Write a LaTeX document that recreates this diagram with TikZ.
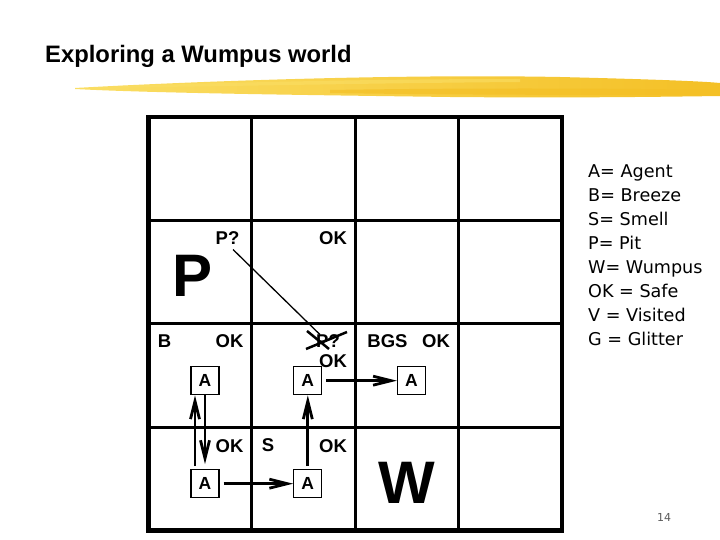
\documentclass[tikz,border=0pt]{standalone}
\usepackage{fontspec}
\setmainfont{Liberation Sans}
\newfontfamily\legendfont{DejaVu Sans}
\usetikzlibrary{arrows.meta,positioning}
\definecolor{brushgold}{RGB}{244,192,38}
\definecolor{brushpale}{RGB}{250,222,100}
\definecolor{pagegray}{RGB}{90,90,90}

\begin{document}
\begin{tikzpicture}[x=1pt,y=-1pt,
  lbl/.style={font=\fontsize{18.5}{22}\selectfont\bfseries,inner sep=0pt,anchor=base},
  big/.style={font=\fontsize{60}{60}\selectfont\bfseries,inner sep=0pt,anchor=base},
  agent/.style={draw,line width=1.3pt,minimum size=28pt,inner sep=0pt,
    font=\fontsize{17.5}{17.5}\selectfont\bfseries},
  move/.style={line width=2.8pt,-{Straight Barb[length=18pt,width=9pt]}},
  cell/.style={line width=3pt},
  legend/.style={font=\legendfont\fontsize{17.6}{20}\selectfont,inner sep=0pt,anchor=base west}]
  \useasboundingbox (0,0) rectangle (720,540);

  % title and brush stroke
  \node[font=\fontsize{23.8}{28}\selectfont\bfseries,inner sep=0pt,anchor=base west]
    (title) at (45,63) {Exploring a Wumpus world};
  \shade[left color=brushpale,right color=brushgold]
    (75,88) .. controls (200,81) and (400,74) .. (560,77)
    .. controls (640,79) and (700,81) .. (720,83) -- (720,96)
    .. controls (650,97) and (560,98) .. (450,97)
    .. controls (300,95) and (150,93) .. (75,89) -- cycle;
  \fill[brushpale,opacity=.6]
    (120,86) .. controls (250,82) and (380,79) .. (520,79) -- (520,82)
    .. controls (380,83) and (250,86) .. (120,87.5) -- cycle;
  \fill[brushgold,opacity=.7]
    (330,90) .. controls (450,88) and (600,88) .. (720,90) -- (720,95)
    .. controls (600,95) and (450,95) .. (330,93) -- cycle;

  % the 4x4 cave
  \draw[cell] (251.8,117) -- (251.8,530.6);
  \draw[cell] (355.2,117) -- (355.2,530.6);
  \draw[cell] (458.6,117) -- (458.6,530.6);
  \draw[cell] (148.4,220.4) -- (562,220.4);
  \draw[cell] (148.4,323.8) -- (562,323.8);
  \draw[cell] (148.4,427.2) -- (562,427.2);
  \draw[line width=4.5pt] (148.4,117) rectangle (562,530.6);

  % percepts and conclusions
  \node[lbl] (pq1) at (227.5,244.3) {P?};
  \node[lbl] (ok1) at (333,244.3) {OK};
  \node[big] (pit) at (193,296) {P};
  \node[lbl] (b) at (164.5,347.7) {B};
  \node[lbl] (ok2) at (229.5,347.7) {OK};
  \node[lbl] (pq2) at (328,347.7) {P?};
  \node[lbl] (ok3) at (333,367) {OK};
  \node[lbl] (bgs) at (387.5,347.7) {BGS};
  \node[lbl] (ok4) at (436,347.7) {OK};
  \node[lbl] (ok5) at (229.5,452.7) {OK};
  \node[lbl] (s) at (268,451) {S};
  \node[lbl] (ok6) at (333,452.7) {OK};
  \node[big] (wumpus) at (406.5,503) {W};

  % agent positions
  \node[agent] (a11) at (205,483.7) {A};
  \node[agent] (a21) at (307.8,483.7) {A};
  \node[agent] (a12) at (205,380.7) {A};
  \node[agent] (a22) at (307.8,380.7) {A};
  \node[agent] (a32) at (411.5,380.7) {A};

  % moves
  \draw[move,shorten <=3pt] ([xshift=-10pt]a11.north) -- ([xshift=-10pt]a12.south);
  \draw[move,shorten >=5pt] (a12.south) -- (a11.north);
  \draw[move,shorten <=3pt] (a21.north) -- (a22.south);
  \draw[move,shorten <=4pt] (a11.east) -- (a21.west);
  \draw[move,shorten <=4pt] (a22.east) -- (a32.west);

  % pit guess crossed out
  \draw[line width=1.3pt] ([xshift=5.5pt,yshift=-5pt]pq1.south) -- ([xshift=4pt]pq2.north west);
  \draw[line width=2.5pt] ([shift={(-21pt,16.7pt)}]pq2.base) -- ([shift={(1pt,-1.3pt)}]pq2.base);
  \draw[line width=2.5pt] ([shift={(-22pt,-1.3pt)}]pq2.base) -- ([shift={(19pt,15.7pt)}]pq2.base);

  % legend
  \node[legend] (lga) at (588,177.7) {A= Agent};
  \node[legend] (lgb) at (588,201.7) {B= Breeze};
  \node[legend] (lgs) at (588,225.7) {S= Smell};
  \node[legend] (lgp) at (588,249.7) {P= Pit};
  \node[legend] (lgw) at (588,273.7) {W= Wumpus};
  \node[legend] (lgok) at (588,297.7) {OK = Safe};
  \node[legend] (lgv) at (588,321.7) {V = Visited};
  \node[legend] (lgg) at (588,345.7) {G = Glitter};

  \node[font=\legendfont\fontsize{11}{13}\selectfont,text=pagegray,inner sep=0pt,anchor=base]
    (page) at (664,521) {14};
\end{tikzpicture}
\end{document}
